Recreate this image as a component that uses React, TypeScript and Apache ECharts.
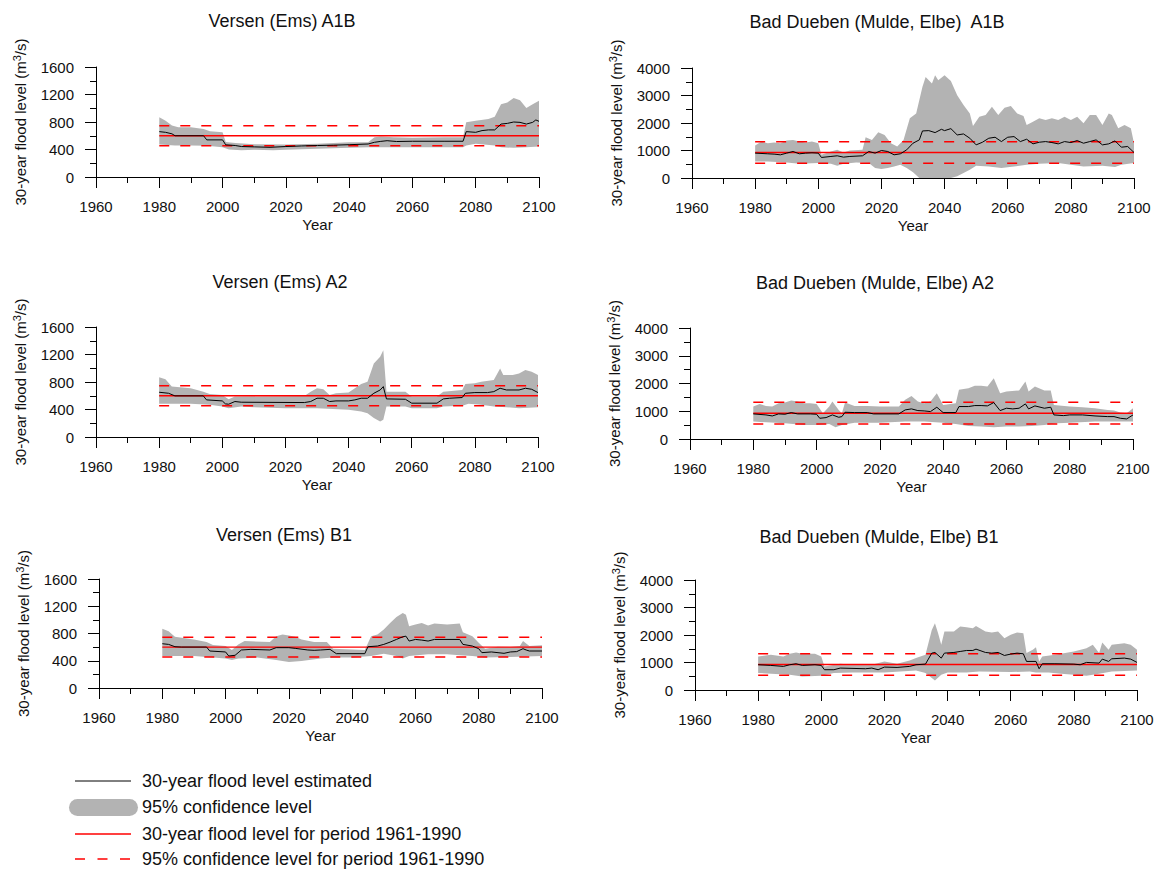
import React, { useEffect, useRef } from "react";
import * as echarts from "echarts";

type Pt = [number, number];
const FONT = '"Liberation Sans", Arial, Helvetica, sans-serif';
const TXT = "#111111";
const GREY = "#b3b3b3";
const RED = "#ff0000";

// ---------- reference levels (period 1961-1990) ----------
const VERSEN_REF = 600;
const VERSEN_HI = 745;
const VERSEN_LO = 455;
const DUEBEN_REF = 930;
const DUEBEN_HI = 1320;
const DUEBEN_LO = 540;
const REF_SPAN: number[] = [1980, 2100];

// ---------- Versen (Ems) A1B ----------
const VA1B_EST: Pt[] = [[1980,660],[1982,650],[1984,628],[1985,600],[1994,600],[1995,540],[2000,540],[2001,468],[2004,458],[2006,443],[2010,438],[2015,432],[2020,443],[2025,452],[2030,458],[2035,463],[2040,470],[2046,480],[2048,505],[2050,518],[2052,528],[2055,516],[2060,520],[2070,520],[2076,520],[2077,660],[2080,650],[2082,675],[2084,685],[2086,685],[2088,770],[2090,780],[2092,800],[2094,795],[2096,770],[2098,795],[2099,830],[2100,810]];
const VA1B_UP: Pt[] = [[1980,868],[1982,820],[1984,750],[1986,725],[1990,722],[1994,700],[1996,665],[2000,650],[2001,508],[2004,496],[2010,475],[2020,472],[2030,482],[2040,505],[2046,506],[2048,578],[2050,590],[2054,580],[2060,570],[2070,578],[2076,580],[2077,795],[2080,820],[2084,845],[2086,878],[2088,1060],[2090,1085],[2092,1148],[2094,1118],[2096,1002],[2098,1060],[2100,1108]];
const VA1B_LO: Pt[] = [[1980,472],[1985,458],[1990,458],[1995,453],[2000,434],[2002,400],[2006,388],[2010,395],[2016,388],[2020,395],[2030,410],[2040,424],[2046,434],[2056,434],[2076,434],[2077,458],[2080,482],[2086,458],[2088,434],[2092,424],[2096,434],[2100,443]];

// ---------- Bad Dueben (Mulde, Elbe) A1B ----------
const DA1B_EST: Pt[] = [[1980,904],[1984,880],[1986,868],[1988,843],[1990,904],[1992,964],[1994,880],[1996,904],[1998,916],[2000,904],[2001,747],[2004,783],[2006,807],[2008,759],[2010,783],[2014,807],[2016,964],[2018,904],[2020,1000],[2022,964],[2024,843],[2026,880],[2028,1024],[2030,1265],[2032,1386],[2033,1711],[2035,1723],[2037,1651],[2039,1771],[2040,1723],[2042,1795],[2044,1566],[2046,1602],[2048,1446],[2050,1205],[2052,1301],[2054,1446],[2056,1482],[2058,1325],[2060,1482],[2062,1506],[2064,1325],[2066,1410],[2068,1241],[2070,1301],[2072,1325],[2074,1289],[2076,1241],[2078,1325],[2080,1289],[2082,1362],[2084,1265],[2086,1325],[2088,1386],[2090,1205],[2092,1241],[2094,1350],[2096,1120],[2098,1145],[2100,928]];
const DA1B_UP: Pt[] = [[1980,1181],[1982,1325],[1984,1265],[1986,1289],[1988,1265],[1990,1362],[1992,1386],[1994,1325],[1996,1289],[1998,1325],[2000,1265],[2001,843],[2004,964],[2006,1024],[2008,928],[2010,1000],[2014,1024],[2015,1482],[2017,1386],[2019,1663],[2021,1566],[2023,1265],[2025,1145],[2027,1386],[2029,2169],[2031,2350],[2033,3314],[2034,3675],[2036,3434],[2037,3735],[2038,3555],[2040,3735],[2042,3530],[2044,3012],[2046,2651],[2048,2350],[2049,1892],[2051,2229],[2053,2290],[2055,2591],[2057,2290],[2059,2555],[2061,2615],[2063,2350],[2065,2253],[2066,1928],[2068,2048],[2070,2169],[2072,2109],[2074,2169],[2076,2109],[2078,2229],[2080,2109],[2082,2229],[2084,1988],[2086,2290],[2088,2290],[2090,1928],[2092,2350],[2093,2290],[2095,1807],[2097,1928],[2099,1807],[2100,1265]];
const DA1B_LO: Pt[] = [[1980,602],[1984,602],[1990,566],[1994,518],[2000,542],[2004,518],[2006,446],[2008,518],[2012,566],[2016,542],[2018,361],[2020,325],[2022,361],[2024,422],[2026,482],[2028,361],[2030,205],[2032,0],[2042,0],[2044,60],[2046,181],[2048,301],[2050,446],[2054,422],[2058,361],[2062,422],[2066,482],[2070,518],[2076,542],[2080,482],[2084,422],[2090,446],[2094,398],[2096,482],[2100,542]];

// ---------- Versen (Ems) A2 ----------
const VA2_EST: Pt[] = [[1980,651],[1983,636],[1985,598],[1994,598],[1995,540],[2000,525],[2001,482],[2002,477],[2004,516],[2006,506],[2026,501],[2028,516],[2030,564],[2032,564],[2034,516],[2036,525],[2040,525],[2042,540],[2044,564],[2046,564],[2048,636],[2050,684],[2051,733],[2052,554],[2058,549],[2060,492],[2068,492],[2070,554],[2072,564],[2076,574],[2077,636],[2080,646],[2084,646],[2086,660],[2088,709],[2090,684],[2094,684],[2096,709],[2098,694],[2100,646]];
const VA2_UP: Pt[] = [[1980,868],[1982,839],[1984,733],[1990,709],[1994,660],[1996,627],[2000,612],[2002,549],[2004,588],[2026,598],[2028,660],[2030,709],[2032,694],[2034,612],[2036,636],[2040,646],[2042,709],[2044,771],[2046,805],[2048,1070],[2050,1166],[2051,1263],[2052,660],[2058,660],[2060,588],[2068,588],[2070,660],[2076,684],[2077,771],[2080,781],[2082,805],[2086,829],[2088,998],[2089,901],[2092,901],[2094,925],[2096,974],[2098,950],[2100,901]];
const VA2_LO: Pt[] = [[1980,482],[1990,482],[1996,468],[2000,443],[2002,419],[2006,443],[2010,434],[2020,419],[2030,419],[2040,395],[2044,371],[2046,347],[2048,275],[2050,227],[2051,251],[2052,443],[2058,443],[2060,419],[2068,419],[2070,443],[2076,453],[2078,482],[2082,468],[2086,443],[2090,434],[2094,419],[2100,434]];

// ---------- Bad Dueben (Mulde, Elbe) A2 ----------
const DA2_EST: Pt[] = [[1980,904],[1984,868],[1986,831],[1988,904],[1990,892],[1992,952],[1994,904],[1998,904],[2000,892],[2001,747],[2003,771],[2005,868],[2007,783],[2008,807],[2009,964],[2012,952],[2016,952],[2018,904],[2026,904],[2028,1048],[2030,1085],[2032,1024],[2034,1012],[2036,988],[2038,1145],[2040,952],[2044,952],[2045,1169],[2048,1169],[2050,1205],[2052,1205],[2054,1193],[2056,1313],[2058,1024],[2060,1109],[2062,1085],[2064,1109],[2066,1265],[2067,1085],[2069,1193],[2072,1109],[2074,1145],[2075,868],[2078,843],[2080,868],[2084,868],[2088,831],[2092,807],[2094,807],[2096,747],[2098,723],[2100,868]];
const DA2_UP: Pt[] = [[1980,1169],[1982,1265],[1984,1193],[1986,1169],[1988,1289],[1990,1313],[1992,1386],[1994,1350],[1996,1289],[1998,1289],[2000,1265],[2002,928],[2004,1169],[2005,1350],[2007,1048],[2008,928],[2009,1313],[2012,1193],[2016,1193],[2020,1169],[2026,1169],[2028,1410],[2030,1554],[2032,1350],[2034,1289],[2036,1350],[2038,1651],[2040,1229],[2044,1289],[2045,1771],[2048,1831],[2050,1916],[2052,1916],[2054,1892],[2056,2193],[2058,1651],[2060,1711],[2064,1747],[2066,2073],[2067,1711],[2069,1892],[2072,1747],[2074,1747],[2075,1229],[2080,1169],[2084,1145],[2088,1109],[2092,1048],[2094,1024],[2096,952],[2098,928],[2100,1109]];
const DA2_LO: Pt[] = [[1980,627],[1990,566],[1996,506],[2000,506],[2004,542],[2006,422],[2008,506],[2012,590],[2020,590],[2028,627],[2034,627],[2040,590],[2044,542],[2048,470],[2052,446],[2056,422],[2060,446],[2064,446],[2068,470],[2072,506],[2076,566],[2080,590],[2088,627],[2094,627],[2100,627]];

// ---------- Versen (Ems) B1 ----------
const VB1_EST: Pt[] = [[1980,650],[1982,640],[1984,606],[1986,601],[1994,601],[1995,543],[2000,529],[2001,470],[2003,480],[2005,558],[2008,567],[2014,558],[2016,592],[2020,592],[2022,582],[2026,558],[2028,553],[2030,558],[2033,567],[2035,504],[2044,504],[2045,606],[2048,616],[2050,640],[2052,674],[2054,713],[2056,752],[2057,761],[2058,689],[2060,713],[2062,703],[2064,689],[2066,713],[2074,713],[2075,640],[2078,616],[2080,577],[2081,519],[2084,529],[2088,509],[2090,529],[2092,534],[2094,577],[2095,558],[2096,543],[2100,543]];
const VB1_UP: Pt[] = [[1980,868],[1982,834],[1984,752],[1990,713],[1994,674],[1996,630],[2000,616],[2002,558],[2004,640],[2006,689],[2014,674],[2016,761],[2018,786],[2020,771],[2022,752],[2024,713],[2028,674],[2032,674],[2034,577],[2044,558],[2046,761],[2048,786],[2050,858],[2052,955],[2054,1043],[2056,1101],[2057,1077],[2058,907],[2060,931],[2062,955],[2064,917],[2066,946],[2070,931],[2074,946],[2075,820],[2078,761],[2080,664],[2082,577],[2086,606],[2090,601],[2093,616],[2094,689],[2096,616],[2100,626]];
const VB1_LO: Pt[] = [[1980,470],[1990,470],[1996,446],[2000,432],[2002,412],[2004,432],[2010,446],[2016,412],[2020,383],[2024,398],[2030,432],[2034,446],[2040,446],[2046,470],[2050,504],[2054,470],[2056,432],[2058,470],[2064,495],[2070,495],[2074,480],[2078,470],[2082,446],[2090,456],[2100,470]];

// ---------- Bad Dueben (Mulde, Elbe) B1 ----------
const DB1_EST: Pt[] = [[1980,918],[1984,894],[1988,858],[1990,918],[1992,954],[1994,894],[1998,918],[2000,894],[2001,737],[2004,737],[2006,797],[2014,773],[2016,797],[2018,737],[2020,834],[2024,821],[2028,858],[2030,918],[2033,942],[2035,1341],[2036,1365],[2038,1160],[2039,1341],[2042,1365],[2044,1401],[2046,1437],[2048,1437],[2049,1486],[2052,1365],[2054,1341],[2056,1365],[2058,1256],[2060,1305],[2062,1341],[2064,1317],[2065,1039],[2068,1039],[2069,773],[2070,954],[2074,954],[2080,942],[2082,918],[2084,1003],[2088,978],[2089,1123],[2091,1039],[2092,1135],[2096,1160],[2098,1123],[2100,1003]];
const DB1_UP: Pt[] = [[1980,1220],[1984,1280],[1988,1220],[1990,1317],[1992,1365],[1994,1317],[1998,1317],[2000,1220],[2001,858],[2006,954],[2010,918],[2016,918],[2020,1039],[2024,954],[2028,1075],[2030,1160],[2033,1280],[2035,2186],[2036,2428],[2037,2066],[2038,1643],[2039,2126],[2042,2126],[2044,2307],[2046,2283],[2048,2247],[2049,2331],[2052,2126],[2054,2090],[2056,2126],[2058,1884],[2060,2005],[2062,2090],[2064,2066],[2065,1341],[2067,1462],[2068,1558],[2069,1039],[2070,1220],[2074,1280],[2080,1401],[2084,1522],[2086,1643],[2088,1341],[2089,1727],[2091,1462],[2092,1643],[2096,1703],[2098,1643],[2100,1462]];
const DB1_LO: Pt[] = [[1980,616],[1990,556],[1994,495],[2000,519],[2004,616],[2010,640],[2020,640],[2030,713],[2033,616],[2035,435],[2036,350],[2038,556],[2040,640],[2046,640],[2050,676],[2060,652],[2066,676],[2068,640],[2072,640],[2076,592],[2080,556],[2084,519],[2088,592],[2092,676],[2100,713]];

// ---------- panel titles and axis ranges ----------
const TITLES: string[] = [
  "Versen (Ems) A1B",
  "Bad Dueben (Mulde, Elbe)  A1B",
  "Versen (Ems) A2",
  "Bad Dueben (Mulde, Elbe) A2",
  "Versen (Ems) B1",
  "Bad Dueben (Mulde, Elbe) B1",
];
const Y_MAX: number[] = [1600, 4000, 1600, 4000, 1600, 4000];
const Y_STEP: number[] = [400, 1000, 400, 1000, 400, 1000];
const X_MIN = 1960;
const X_MAX = 2100;
const X_STEP = 20;

const LEGEND_TEXT: string[] = [
  "30-year flood level estimated",
  "95% confidence level",
  "30-year flood level for period 1961-1990",
  "95% confidence level for period 1961-1990",
];

const EST = [VA1B_EST, DA1B_EST, VA2_EST, DA2_EST, VB1_EST, DB1_EST];
const UP = [VA1B_UP, DA1B_UP, VA2_UP, DA2_UP, VB1_UP, DB1_UP];
const LO = [VA1B_LO, DA1B_LO, VA2_LO, DA2_LO, VB1_LO, DB1_LO];
const REF = [VERSEN_REF, DUEBEN_REF, VERSEN_REF, DUEBEN_REF, VERSEN_REF, DUEBEN_REF];
const HI = [VERSEN_HI, DUEBEN_HI, VERSEN_HI, DUEBEN_HI, VERSEN_HI, DUEBEN_HI];
const LOW = [VERSEN_LO, DUEBEN_LO, VERSEN_LO, DUEBEN_LO, VERSEN_LO, DUEBEN_LO];

// ---------- layout (pixels) ----------
const LAYOUT = [
  { left: 96, top: 67, width: 443, height: 110, tx: 282, ty: 21 },
  { left: 692, top: 68, width: 442, height: 110, tx: 877, ty: 22 },
  { left: 96, top: 327, width: 442, height: 110, tx: 280, ty: 282 },
  { left: 690, top: 328, width: 443, height: 111, tx: 875, ty: 283 },
  { left: 99, top: 579, width: 443, height: 109, tx: 284, ty: 535 },
  { left: 695, top: 580, width: 442, height: 110, tx: 879, ty: 537 },
];

function buildOption() {
  const grid: any[] = [];
  const xAxis: any[] = [];
  const yAxis: any[] = [];
  const series: any[] = [];
  const graphic: any[] = [];

  const tickStyle = { color: "#000", width: 1 };
  const labelStyle = {
    fontSize: 15,
    color: TXT,
    fontFamily: FONT,
    formatter: (v: number) => String(v),
  };

  for (let i = 0; i < 6; i++) {
    const L = LAYOUT[i];
    grid.push({ left: L.left, top: L.top, width: L.width, height: L.height, containLabel: false });
    xAxis.push({
      gridIndex: i,
      type: "value",
      min: X_MIN,
      max: X_MAX,
      interval: X_STEP,
      z: 5,
      axisLine: { show: true, onZero: false, lineStyle: tickStyle },
      axisTick: { show: true, length: 11, lineStyle: tickStyle },
      minorTick: { show: true, splitNumber: 2, length: 6, lineStyle: tickStyle },
      splitLine: { show: false },
      minorSplitLine: { show: false },
      axisLabel: { ...labelStyle, margin: 22, showMinLabel: true, showMaxLabel: true },
      name: "Year",
      nameLocation: "middle",
      nameGap: 40,
      nameTextStyle: { fontSize: 15, color: TXT, fontFamily: FONT },
    });
    yAxis.push({
      gridIndex: i,
      type: "value",
      min: 0,
      max: Y_MAX[i],
      interval: Y_STEP[i],
      z: 5,
      axisLine: { show: true, lineStyle: tickStyle },
      axisTick: { show: true, length: 11, lineStyle: tickStyle },
      minorTick: { show: true, splitNumber: 2, length: 6, lineStyle: tickStyle },
      splitLine: { show: false },
      minorSplitLine: { show: false },
      axisLabel: { ...labelStyle, margin: 22 },
      name: "{a|30-year flood level (m}{b|3}{a|/s)}",
      nameLocation: "middle",
      nameGap: 67,
      nameRotate: 90,
      nameTextStyle: {
        color: TXT,
        fontFamily: FONT,
        rich: {
          a: { fontSize: 15, fontFamily: FONT, color: TXT, lineHeight: 18 },
          b: { fontSize: 11, fontFamily: FONT, color: TXT, lineHeight: 11, verticalAlign: "top" },
        },
      },
    });

    const common = {
      xAxisIndex: i,
      yAxisIndex: i,
      type: "line",
      symbol: "none",
      showSymbol: false,
      silent: true,
      animation: false,
    };

    // confidence band: polygon between upper and lower bound, placed with the axis scales
    const up = UP[i];
    const lo = LO[i];
    series.push({
      type: "custom",
      name: "95% confidence level",
      coordinateSystem: "cartesian2d",
      xAxisIndex: i,
      yAxisIndex: i,
      silent: true,
      animation: false,
      z: 1,
      data: [up[0]],
      encode: { x: 0, y: 1 },
      renderItem: (_params: any, api: any) => {
        const pts: number[][] = [];
        for (const p of up) pts.push(api.coord(p));
        for (let k = lo.length - 1; k >= 0; k--) pts.push(api.coord(lo[k]));
        return { type: "polygon", shape: { points: pts }, style: { fill: GREY, stroke: null } };
      },
    });
    series.push({
      ...common,
      name: "30-year flood level for period 1961-1990",
      data: REF_SPAN.map((x) => [x, REF[i]]),
      lineStyle: { width: 1.4, color: RED },
      itemStyle: { color: RED },
      z: 3,
    });
    series.push({
      ...common,
      name: "95% confidence level for period 1961-1990 (upper)",
      data: REF_SPAN.map((x) => [x, HI[i]]),
      lineStyle: { width: 1.5, color: RED, type: [10, 11] },
      itemStyle: { color: RED },
      z: 3,
    });
    series.push({
      ...common,
      name: "95% confidence level for period 1961-1990 (lower)",
      data: REF_SPAN.map((x) => [x, LOW[i]]),
      lineStyle: { width: 1.5, color: RED, type: [10, 11] },
      itemStyle: { color: RED },
      z: 3,
    });
    series.push({
      ...common,
      name: "30-year flood level estimated",
      data: EST[i],
      lineStyle: { width: 1, color: "#000" },
      itemStyle: { color: "#000" },
      z: 4,
    });

    graphic.push({
      type: "text",
      x: L.tx,
      y: L.ty,
      silent: true,
      style: {
        text: TITLES[i],
        fill: TXT,
        font: `18px ${FONT}`,
        textAlign: "center",
        textVerticalAlign: "middle",
        align: "center",
        verticalAlign: "middle",
      },
    });
  }

  // legend
  const LX0 = 75;
  const LX1 = 131;
  const TX = 142;
  const ROWS = [781, 807, 834, 859];
  graphic.push({ type: "line", shape: { x1: LX0, y1: ROWS[0], x2: LX1, y2: ROWS[0] }, style: { stroke: "#000", lineWidth: 1 } });
  graphic.push({ type: "rect", shape: { x: 69, y: 799, width: 69, height: 17, r: 8.5 }, style: { fill: GREY } });
  graphic.push({ type: "line", shape: { x1: LX0, y1: ROWS[2], x2: LX1, y2: ROWS[2] }, style: { stroke: RED, lineWidth: 1.4 } });
  graphic.push({ type: "line", shape: { x1: LX0, y1: ROWS[3], x2: LX1, y2: ROWS[3] }, style: { stroke: RED, lineWidth: 1.5, lineDash: [10, 12.5] } });
  LEGEND_TEXT.forEach((t, k) => {
    graphic.push({
      type: "text",
      x: TX,
      y: ROWS[k],
      silent: true,
      style: {
        text: t,
        fill: TXT,
        font: `18px ${FONT}`,
        textAlign: "left",
        textVerticalAlign: "middle",
        align: "left",
        verticalAlign: "middle",
      },
    });
  });

  return {
    animation: false,
    backgroundColor: "#ffffff",
    textStyle: { fontFamily: FONT },
    grid,
    xAxis,
    yAxis,
    series,
    graphic,
  };
}

export default function App() {
  const ref = useRef<HTMLDivElement>(null);
  useEffect(() => {
    if (!ref.current) return;
    const chart = echarts.init(ref.current, undefined, { renderer: "svg" });
    chart.setOption(buildOption() as any);
    return () => {
      chart.dispose();
    };
  }, []);
  return (
    <div
      ref={ref}
      style={{ position: "absolute", left: 0, top: 0, width: 1157, height: 869, background: "#fff" }}
    />
  );
}
